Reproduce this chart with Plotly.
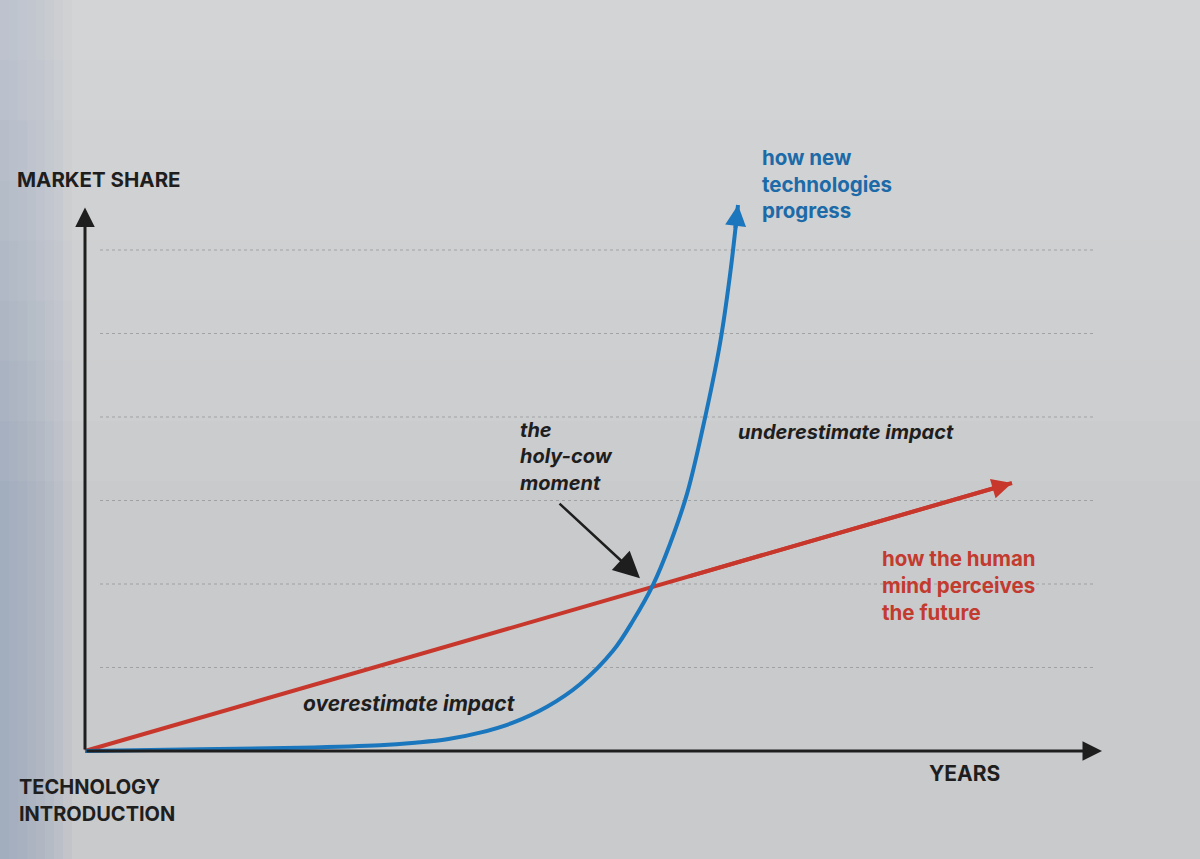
import plotly.graph_objects as go

# ---- data (x: years units, y: market-share units) ----
blue_x = [0.0, 1.15, 2.15, 2.95, 3.3, 3.62, 3.95, 4.28, 4.62, 4.95, 5.28, 5.48, 5.68, 5.85, 6.02, 6.18, 6.35, 6.45, 6.53]
blue_y = [0.0, 0.02, 0.04, 0.07, 0.10, 0.14, 0.22, 0.34, 0.53, 0.80, 1.20, 1.56, 1.99, 2.48, 3.08, 3.88, 4.88, 5.70, 6.54]
red_x = [0.0, 9.27]
red_y = [0.0, 3.21]
grid_y = [1, 2, 3, 4, 5, 6]
grid_x = [0.15, 10.08]
x_axis_end = 10.17
y_axis_end = 6.51
holy_from = (4.73, 2.98)
holy_to = (5.55, 2.07)

blue_label = ["how new", "technologies", "progress"]
red_label = ["how the human", "mind perceives", "the future"]
holy_label = ["the", "holy-cow", "moment"]
origin_label = ["TECHNOLOGY", "INTRODUCTION"]

BLUE = "#1a76bd"
BLUE_TXT = "#1c6aa8"
RED = "#c7372c"
RED_TXT = "#c33a2e"
BLACK = "#1e1e1e"
BG = "#c9cacc"
FONT = "Inter"

fig = go.Figure()

# grid lines
for gy in grid_y:
    fig.add_trace(go.Scatter(x=grid_x, y=[gy, gy], mode="lines",
                             line=dict(color="#8f9092", width=1.1, dash="dot"),
                             opacity=0.7, hoverinfo="skip", showlegend=False))

# red perception line
fig.add_trace(go.Scatter(x=red_x, y=red_y, mode="lines",
                         line=dict(color=RED, width=4), showlegend=False, hoverinfo="skip"))
# blue technology curve
fig.add_trace(go.Scatter(x=blue_x, y=blue_y, mode="lines",
                         line=dict(color=BLUE, width=4, shape="spline", smoothing=1.0),
                         showlegend=False, hoverinfo="skip"))


def arrow(x0, y0, x1, y1, color, width, size):
    fig.add_annotation(x=x1, y=y1, ax=x0, ay=y0, xref="x", yref="y", axref="x", ayref="y",
                       text="", showarrow=True, arrowhead=2, arrowsize=size,
                       arrowwidth=width, arrowcolor=color)


def head(xs, ys, color, width, size):
    # short arrow along the last segment of a drawn line -> arrow head only
    fx = xs[-1] - (xs[-1] - xs[-2]) * 0.35
    fy = ys[-1] - (ys[-1] - ys[-2]) * 0.35
    arrow(fx, fy, xs[-1], ys[-1], color, width, size)


# axes
arrow(0, 0, x_axis_end, 0, BLACK, 3, 1.3)
arrow(0, 0, 0, y_axis_end, BLACK, 3, 1.3)
# curve arrow heads
head(blue_x, blue_y, BLUE, 4, 1.05)
head(red_x, red_y, RED, 4, 1.0)
# holy-cow pointer
arrow(holy_from[0], holy_from[1], holy_to[0], holy_to[1], BLACK, 2.5, 2.1)


def label(x, y, text, color=BLACK, size=19, italic=False, anchor="left"):
    fig.add_annotation(x=x, y=y, xref="x", yref="y", text=text, showarrow=False,
                       xanchor=anchor, yanchor="middle", align="left", borderpad=0,
                       font=dict(family=FONT, size=size, color=color, weight="bold",
                                 style="italic" if italic else "normal"))


def block(x, ys, lines, **kw):
    for yy, t in zip(ys, lines):
        label(x, yy, t, **kw)


label(-0.69, 6.84, "MARKET SHARE", size=20.5)
block(-0.67, [-0.43, -0.75], origin_label, size=20)
label(8.43, -0.27, "YEARS", size=21)
block(6.76, [7.11, 6.79, 6.47], blue_label, color=BLUE_TXT, size=20.5)
block(7.96, [2.30, 1.98, 1.66], red_label, color=RED_TXT, size=20.5)
block(4.34, [3.85, 3.53, 3.21], holy_label, size=20, italic=True)
label(6.52, 3.82, "underestimate impact", size=20, italic=True)
label(2.17, 0.57, "overestimate impact", size=21, italic=True)

# photographic background tint: bluish left edge fading into grey
for k in range(1, 9):
    fig.add_shape(type="rect", xref="paper", yref="paper", x0=0, x1=0.0075 * k, y0=0, y1=1,
                  fillcolor="#8fa6bd", opacity=0.13, line_width=0, layer="below")
# lighter top of the page
for k in range(1, 9):
    fig.add_shape(type="rect", xref="paper", yref="paper", x0=0, x1=1, y0=1 - 0.07 * k, y1=1,
                  fillcolor="#eef0f4", opacity=0.06, line_width=0, layer="below")

fig.update_layout(
    width=1200, height=859, margin=dict(l=0, r=0, t=0, b=0),
    paper_bgcolor=BG, plot_bgcolor=BG,
    xaxis=dict(range=[-0.85, 11.15], visible=False, fixedrange=True),
    yaxis=dict(range=[-1.293, 8.994], visible=False, fixedrange=True),
    showlegend=False,
)

fig.write_html("out.html", config={"displayModeBar": False},
               post_script="document.body.style.margin='0';document.body.style.overflow='hidden';")
